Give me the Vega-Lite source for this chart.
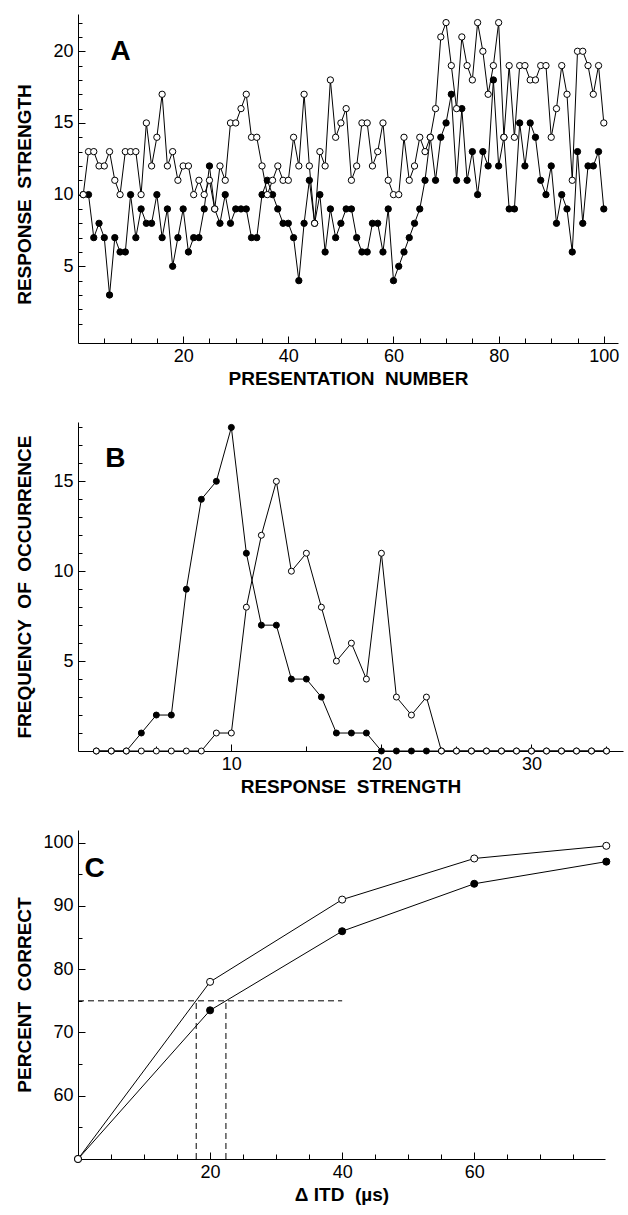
{
  "$schema": "https://vega.github.io/schema/vega-lite/v6.json",
  "background": "white",
  "padding": {"left": 15, "right": 2, "top": 13, "bottom": 5},
  "bounds": "flush",
  "spacing": 79,
  "config": {
    "view": {"stroke": null},
    "font": "Liberation Sans",
    "axis": {
      "grid": false, "domainColor": "black", "tickColor": "black", "labelColor": "black", "titleColor": "black",
      "labelFont": "Liberation Sans", "titleFont": "Liberation Sans", "labelFontSize": 18, "titleFontSize": 19,
      "titleFontWeight": "bold", "domainWidth": 1, "tickWidth": 1, "labelOverlap": false, "labelBound": false, "labelFlush": false
    },
    "text": {"font": "Liberation Sans", "fontSize": 28, "fontWeight": "bold", "color": "black"}
  },
  "datasets": {
    "a": [
      {"n":1,"o":10,"f":10},{"n":2,"o":13,"f":10},{"n":3,"o":13,"f":7},{"n":4,"o":12,"f":8},{"n":5,"o":12,"f":7},
      {"n":6,"o":13,"f":3},{"n":7,"o":11,"f":7},{"n":8,"o":10,"f":6},{"n":9,"o":13,"f":6},{"n":10,"o":13,"f":10},
      {"n":11,"o":13,"f":7},{"n":12,"o":10,"f":9},{"n":13,"o":15,"f":8},{"n":14,"o":12,"f":8},{"n":15,"o":14,"f":10},
      {"n":16,"o":17,"f":7},{"n":17,"o":12,"f":9},{"n":18,"o":13,"f":5},{"n":19,"o":11,"f":7},{"n":20,"o":12,"f":9},
      {"n":21,"o":12,"f":6},{"n":22,"o":10,"f":7},{"n":23,"o":11,"f":7},{"n":24,"o":10,"f":9},{"n":25,"o":11,"f":12},
      {"n":26,"o":9,"f":9},{"n":27,"o":12,"f":8},{"n":28,"o":11,"f":10},{"n":29,"o":15,"f":8},{"n":30,"o":15,"f":9},
      {"n":31,"o":16,"f":9},{"n":32,"o":17,"f":9},{"n":33,"o":14,"f":7},{"n":34,"o":14,"f":7},{"n":35,"o":12,"f":10},
      {"n":36,"o":10,"f":11},{"n":37,"o":11,"f":10},{"n":38,"o":12,"f":9},{"n":39,"o":11,"f":8},{"n":40,"o":11,"f":8},
      {"n":41,"o":14,"f":7},{"n":42,"o":12,"f":4},{"n":43,"o":17,"f":8},{"n":44,"o":12,"f":11},{"n":45,"o":8,"f":8},
      {"n":46,"o":13,"f":10},{"n":47,"o":12,"f":6},{"n":48,"o":18,"f":9},{"n":49,"o":14,"f":7},{"n":50,"o":15,"f":8},
      {"n":51,"o":16,"f":9},{"n":52,"o":11,"f":9},{"n":53,"o":12,"f":7},{"n":54,"o":15,"f":6},{"n":55,"o":15,"f":6},
      {"n":56,"o":12,"f":8},{"n":57,"o":13,"f":8},{"n":58,"o":15,"f":6},{"n":59,"o":11,"f":9},{"n":60,"o":10,"f":4},
      {"n":61,"o":10,"f":5},{"n":62,"o":14,"f":6},{"n":63,"o":11,"f":7},{"n":64,"o":12,"f":8},{"n":65,"o":14,"f":9},
      {"n":66,"o":13,"f":11},{"n":67,"o":14,"f":14},{"n":68,"o":16,"f":11},{"n":69,"o":21,"f":14},{"n":70,"o":22,"f":15},
      {"n":71,"o":19,"f":17},{"n":72,"o":16,"f":11},{"n":73,"o":21,"f":16},{"n":74,"o":19,"f":11},{"n":75,"o":18,"f":13},
      {"n":76,"o":22,"f":10},{"n":77,"o":20,"f":13},{"n":78,"o":17,"f":12},{"n":79,"o":19,"f":18},{"n":80,"o":22,"f":12},
      {"n":81,"o":14,"f":14},{"n":82,"o":19,"f":9},{"n":83,"o":14,"f":9},{"n":84,"o":19,"f":15},{"n":85,"o":19,"f":12},
      {"n":86,"o":18,"f":15},{"n":87,"o":18,"f":14},{"n":88,"o":19,"f":11},{"n":89,"o":19,"f":10},{"n":90,"o":14,"f":12},
      {"n":91,"o":16,"f":8},{"n":92,"o":19,"f":10},{"n":93,"o":17,"f":9},{"n":94,"o":11,"f":6},{"n":95,"o":20,"f":13},
      {"n":96,"o":20,"f":8},{"n":97,"o":19,"f":12},{"n":98,"o":17,"f":12},{"n":99,"o":19,"f":13},{"n":100,"o":15,"f":9}
    ],
    "b": [
      {"r":1,"o":0,"f":0},{"r":2,"o":0,"f":0},{"r":3,"o":0,"f":0},{"r":4,"o":0,"f":1},{"r":5,"o":0,"f":2},
      {"r":6,"o":0,"f":2},{"r":7,"o":0,"f":9},{"r":8,"o":0,"f":14},{"r":9,"o":1,"f":15},{"r":10,"o":1,"f":18},
      {"r":11,"o":8,"f":11},{"r":12,"o":12,"f":7},{"r":13,"o":15,"f":7},{"r":14,"o":10,"f":4},{"r":15,"o":11,"f":4},
      {"r":16,"o":8,"f":3},{"r":17,"o":5,"f":1},{"r":18,"o":6,"f":1},{"r":19,"o":4,"f":1},{"r":20,"o":11,"f":0},
      {"r":21,"o":3,"f":0},{"r":22,"o":2,"f":0},{"r":23,"o":3,"f":0},{"r":24,"o":0,"f":0},{"r":25,"o":0,"f":0},
      {"r":26,"o":0,"f":0},{"r":27,"o":0,"f":0},{"r":28,"o":0,"f":0},{"r":29,"o":0,"f":0},{"r":30,"o":0,"f":0},
      {"r":31,"o":0,"f":0},{"r":32,"o":0,"f":0},{"r":33,"o":0,"f":0},{"r":34,"o":0,"f":0},{"r":35,"o":0,"f":0}
    ],
    "c": [
      {"itd":0,"o":50,"f":50},{"itd":20,"o":78,"f":73.5},{"itd":40,"o":91,"f":86},
      {"itd":60,"o":97.5,"f":93.5},{"itd":80,"o":99.5,"f":97}
    ]
  },
  "vconcat": [
    {
      "width": 540, "height": 329,
      "resolve": {"axis": {"x": "independent", "y": "independent"}},
      "layer": [
        {"data": {"name": "a"}, "transform": [{"fold": ["o", "f"], "as": ["s", "v"]}],
          "mark": {"type": "line", "color": "black", "strokeWidth": 1},
          "encoding": {
            "x": {"field": "n", "type": "quantitative",
              "scale": {"domain": [0, 102.7], "nice": false, "zero": false},
              "axis": {"title": "PRESENTATION\u00a0 NUMBER", "values": [5,10,15,20,25,30,35,40,45,50,55,60,65,70,75,80,85,90,95,100],
                "labelExpr": "datum.value % 20 === 0 ? datum.label : ''",
                "tickSize": {"condition": {"test": "datum.value % 20 === 0", "value": -7}, "value": -5},
                "labelPadding": 11, "titleY": 41, "titleBaseline": "alphabetic"}},
            "y": {"field": "v", "type": "quantitative",
              "scale": {"domain": [-0.35, 22.6], "nice": false, "zero": false},
              "axis": {"title": "RESPONSE\u00a0 STRENGTH", "values": [1,2,3,4,5,6,7,8,9,10,11,12,13,14,15,16,17,18,19,20,21,22],
                "labelExpr": "datum.value % 5 === 0 ? datum.label : ''",
                "tickSize": {"condition": {"test": "datum.value % 5 === 0", "value": -7}, "value": -4},
                "labelPadding": 12, "titleX": -47.5, "titleBaseline": "alphabetic", "titleY": 180}},
            "detail": {"field": "s"}}},
        {"data": {"name": "a"}, "transform": [{"fold": ["o", "f"], "as": ["s", "v"]}, {"filter": {"field": "s", "equal": "f"}}],
          "mark": {"type": "point", "shape": "circle", "filled": true, "fill": "black", "stroke": "black", "strokeWidth": 1, "size": 40, "opacity": 1},
          "encoding": {"x": {"field": "n", "type": "quantitative", "axis": null}, "y": {"field": "v", "type": "quantitative", "axis": null}}},
        {"data": {"name": "a"}, "transform": [{"fold": ["o", "f"], "as": ["s", "v"]}, {"filter": {"field": "s", "equal": "o"}}],
          "mark": {"type": "point", "shape": "circle", "filled": true, "fill": "white", "stroke": "black", "strokeWidth": 1, "size": 40, "opacity": 1},
          "encoding": {"x": {"field": "n", "type": "quantitative", "axis": null}, "y": {"field": "v", "type": "quantitative", "axis": null}}},
        {"data": {"values": [{"panel": "A", "px": 6.2, "py": 19.4}]},
          "mark": {"type": "text", "align": "left", "baseline": "alphabetic"},
          "encoding": {"x": {"field": "px", "type": "quantitative", "axis": null}, "y": {"field": "py", "type": "quantitative", "axis": null}, "text": {"field": "panel", "type": "nominal"}}}
      ]
    },
    {
      "width": 545, "height": 329,
      "resolve": {"axis": {"x": "independent", "y": "independent"}},
      "layer": [
        {"data": {"name": "b"}, "transform": [{"fold": ["o", "f"], "as": ["s", "v"]}],
          "mark": {"type": "line", "color": "black", "strokeWidth": 1},
          "encoding": {
            "x": {"field": "r", "type": "quantitative",
              "scale": {"domain": [-0.22, 36.1], "nice": false, "zero": false},
              "axis": {"title": "RESPONSE\u00a0 STRENGTH", "values": [5,10,15,20,25,30,35],
                "labelExpr": "datum.value % 10 === 0 ? datum.label : ''",
                "tickSize": {"condition": {"test": "datum.value % 10 === 0", "value": -7}, "value": -5},
                "labelPadding": 11, "titleY": 41, "titleBaseline": "alphabetic"}},
            "y": {"field": "v", "type": "quantitative",
              "scale": {"domain": [0, 18.3], "nice": false, "zero": false},
              "axis": {"title": "FREQUENCY\u00a0 OF\u00a0 OCCURRENCE", "values": [1,2,3,4,5,6,7,8,9,10,11,12,13,14,15,16,17,18],
                "labelExpr": "datum.value % 5 === 0 ? datum.label : ''",
                "tickSize": {"condition": {"test": "datum.value % 5 === 0", "value": -7}, "value": -4},
                "labelPadding": 12, "titleX": -47.5, "titleBaseline": "alphabetic"}},
            "detail": {"field": "s"}}},
        {"data": {"name": "b"}, "transform": [{"fold": ["o", "f"], "as": ["s", "v"]}, {"filter": {"field": "s", "equal": "f"}}],
          "mark": {"type": "point", "shape": "circle", "filled": true, "fill": "black", "stroke": "black", "strokeWidth": 1, "size": 36, "opacity": 1},
          "encoding": {"x": {"field": "r", "type": "quantitative", "axis": null}, "y": {"field": "v", "type": "quantitative", "axis": null}}},
        {"data": {"name": "b"}, "transform": [{"fold": ["o", "f"], "as": ["s", "v"]}, {"filter": {"field": "s", "equal": "o"}}],
          "mark": {"type": "point", "shape": "circle", "filled": true, "fill": "white", "stroke": "black", "strokeWidth": 1, "size": 36, "opacity": 1},
          "encoding": {"x": {"field": "r", "type": "quantitative", "axis": null}, "y": {"field": "v", "type": "quantitative", "axis": null}}},
        {"data": {"values": [{"panel": "B", "px": 1.6, "py": 15.8}]},
          "mark": {"type": "text", "align": "left", "baseline": "alphabetic"},
          "encoding": {"x": {"field": "px", "type": "quantitative", "axis": null}, "y": {"field": "py", "type": "quantitative", "axis": null}, "text": {"field": "panel", "type": "nominal"}}}
      ]
    },
    {
      "width": 527, "height": 329,
      "resolve": {"axis": {"x": "independent", "y": "independent"}},
      "layer": [
        {"data": {"name": "c"}, "transform": [{"fold": ["o", "f"], "as": ["s", "v"]}],
          "mark": {"type": "line", "color": "black", "strokeWidth": 1},
          "encoding": {
            "x": {"field": "itd", "type": "quantitative",
              "scale": {"domain": [0, 79.8], "nice": false, "zero": false},
              "axis": {"title": "\u0394 ITD\u00a0 (\u00b5s)", "values": [5,10,15,20,25,30,35,40,45,50,55,60,65,70,75],
                "labelExpr": "datum.value % 20 === 0 ? datum.label : ''",
                "tickSize": {"condition": {"test": "datum.value % 20 === 0", "value": -7}, "value": -5},
                "labelPadding": 11, "titleY": 41, "titleBaseline": "alphabetic"}},
            "y": {"field": "v", "type": "quantitative",
              "scale": {"domain": [50, 102], "nice": false, "zero": false},
              "axis": {"title": "PERCENT\u00a0 CORRECT", "values": [55,60,65,70,75,80,85,90,95,100],
                "labelExpr": "datum.value % 10 === 0 ? datum.label : ''",
                "tickSize": {"condition": {"test": "datum.value % 10 === 0", "value": -7}, "value": -4},
                "labelPadding": 12, "titleX": -47.5, "titleBaseline": "alphabetic"}},
            "detail": {"field": "s"}}},
        {"data": {"values": [{"thr": 17.9}, {"thr": 22.4}]},
          "mark": {"type": "rule", "color": "black", "strokeWidth": 1, "strokeDash": [6, 4]},
          "encoding": {"x": {"field": "thr", "type": "quantitative", "axis": null}, "y": {"datum": 50, "axis": null}, "y2": {"datum": 75}}},
        {"data": {"values": [{"pc": 75, "lo": 0, "hi": 40}]},
          "mark": {"type": "rule", "color": "black", "strokeWidth": 1, "strokeDash": [6, 4]},
          "encoding": {"y": {"field": "pc", "type": "quantitative", "axis": null}, "x": {"field": "lo", "type": "quantitative", "axis": null}, "x2": {"field": "hi"}}},
        {"data": {"name": "c"}, "transform": [{"fold": ["o", "f"], "as": ["s", "v"]}, {"filter": {"field": "s", "equal": "f"}}],
          "mark": {"type": "point", "shape": "circle", "filled": true, "fill": "black", "stroke": "black", "strokeWidth": 1, "size": 50, "opacity": 1},
          "encoding": {"x": {"field": "itd", "type": "quantitative", "axis": null}, "y": {"field": "v", "type": "quantitative", "axis": null}}},
        {"data": {"name": "c"}, "transform": [{"fold": ["o", "f"], "as": ["s", "v"]}, {"filter": {"field": "s", "equal": "o"}}],
          "mark": {"type": "point", "shape": "circle", "filled": true, "fill": "white", "stroke": "black", "strokeWidth": 1, "size": 50, "opacity": 1},
          "encoding": {"x": {"field": "itd", "type": "quantitative", "axis": null}, "y": {"field": "v", "type": "quantitative", "axis": null}}},
        {"data": {"values": [{"panel": "C", "px": 1, "py": 94.5}]},
          "mark": {"type": "text", "align": "left", "baseline": "alphabetic"},
          "encoding": {"x": {"field": "px", "type": "quantitative", "axis": null}, "y": {"field": "py", "type": "quantitative", "axis": null}, "text": {"field": "panel", "type": "nominal"}}}
      ]
    }
  ]
}
